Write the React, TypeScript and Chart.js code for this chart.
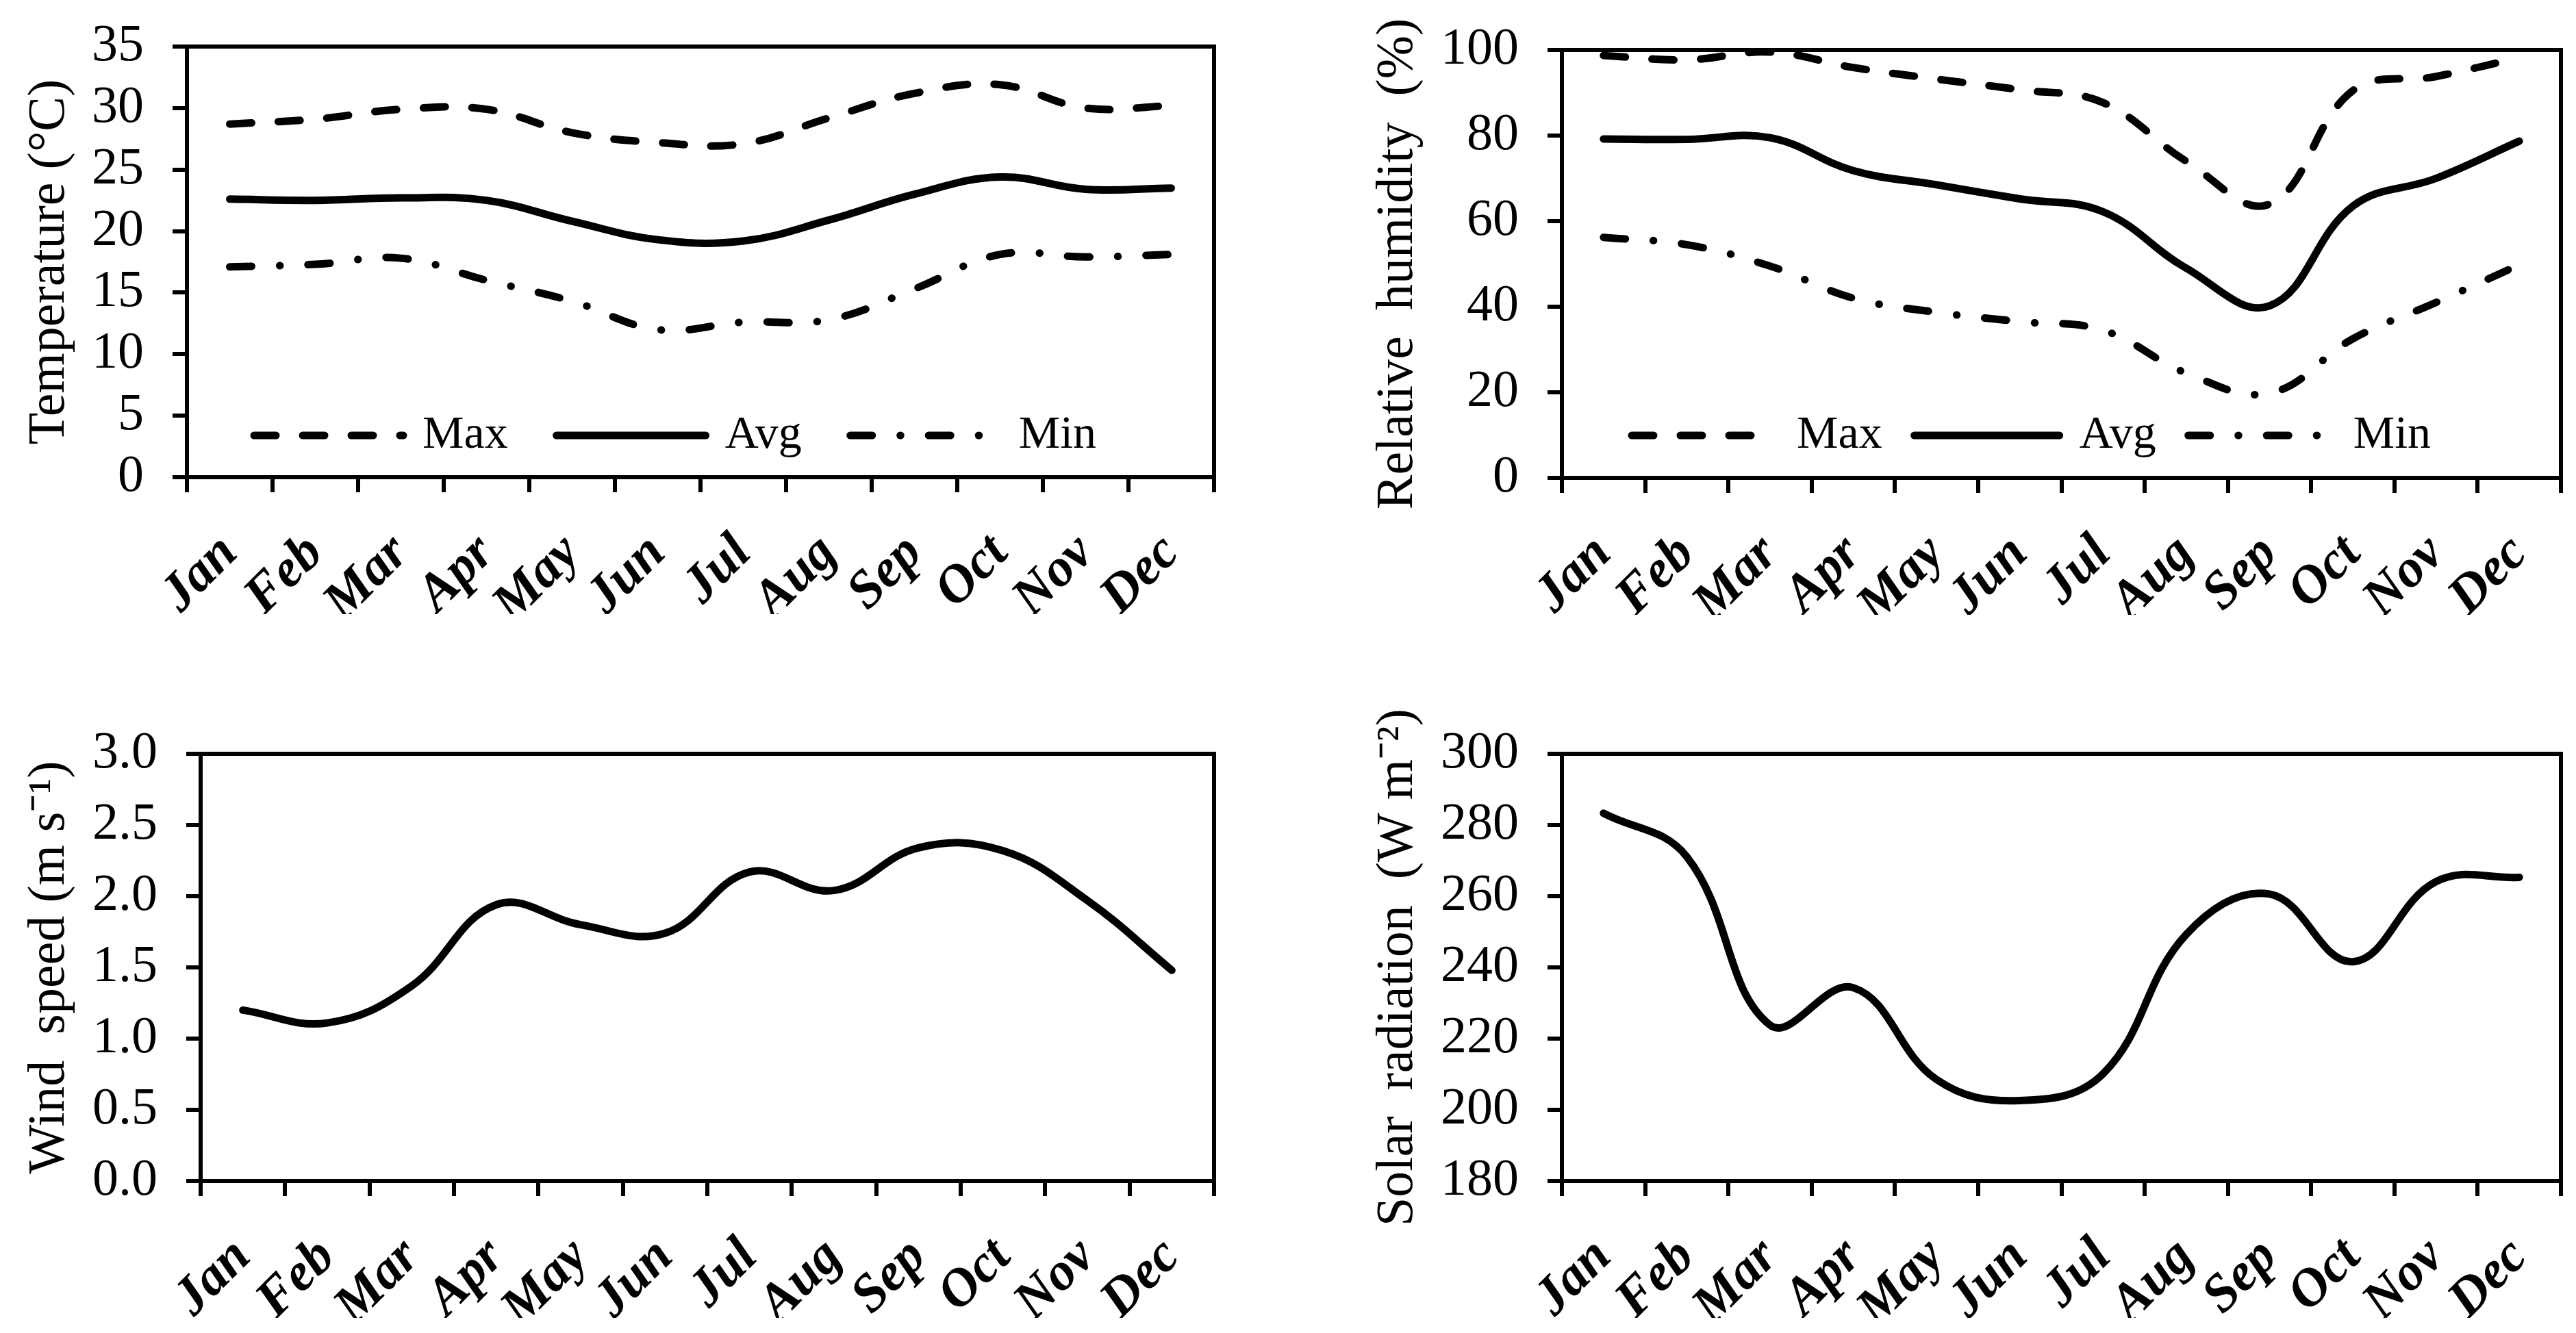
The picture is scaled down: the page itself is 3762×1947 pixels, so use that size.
import React, { useEffect, useRef } from 'react';
import { Chart, registerables } from 'chart.js';

Chart.register(...registerables);

const FAMILY = '"Liberation Serif", "Times New Roman", serif';

// ---------- data ----------
const months = ['Jan', 'Feb', 'Mar', 'Apr', 'May', 'Jun', 'Jul', 'Aug', 'Sep', 'Oct', 'Nov', 'Dec'];

const tempMax = [28.7, 29.1, 29.9, 29.9, 28.0, 27.2, 27.1, 29.2, 31.2, 31.9, 30.0, 30.2];
const tempAvg = [22.6, 22.5, 22.7, 22.5, 20.8, 19.3, 19.2, 20.9, 23.0, 24.4, 23.4, 23.5];
const tempMin = [17.1, 17.3, 17.8, 16.0, 14.3, 12.0, 12.6, 12.8, 15.3, 18.1, 17.9, 18.1];

const rhMax = [98.7, 97.7, 99.5, 95.9, 93.2, 90.7, 87.7, 74.0, 64.0, 90.5, 93.8, 98.2];
const rhAvg = [79.2, 79.1, 79.5, 71.8, 68.5, 65.2, 62.2, 49.0, 40.2, 63.5, 70.0, 78.7];
const rhMin = [56.2, 54.5, 49.5, 42.0, 38.7, 36.5, 34.5, 24.5, 19.8, 32.5, 41.0, 49.8];

const windSpeed = [1.20, 1.11, 1.37, 1.94, 1.80, 1.74, 2.17, 2.04, 2.34, 2.32, 1.97, 1.48];

const solarRadiation = [283.3, 271.1, 223.8, 234.3, 208.5, 202.6, 210.1, 249.3, 260.6, 241.6, 264.1, 265.3];

const seriesLabels = ['Max', 'Avg', 'Min'];

const tempTicks = { min: 0, max: 35, step: 5 };
const rhTicks = { min: 0, max: 100, step: 20 };
const windTicks = { min: 0, max: 3, step: 0.5 };
const solarTicks = { min: 180, max: 300, step: 20 };

const titles = {
  temp: 'Temperature (°C)',
  rh: 'Relative  humidity  (%)',
  wind: 'Wind  speed (m s\u207B\u00B9)',
  solar: 'Solar  radiation  (W m\u207B\u00B2)',
};

// ---------- styles ----------
const LINE_W = 11;
const DASH_MAX = [32, 39];
const DASH_MIN = [32, 41, 0.5, 41];
const X_AXIS_H = 200;

const framePlugin = {
  id: 'frame',
  afterDraw(chart: any) {
    const { ctx, chartArea: a } = chart;
    ctx.save();
    ctx.strokeStyle = '#000';
    ctx.lineWidth = 6;
    ctx.lineJoin = 'miter';
    ctx.beginPath();
    ctx.moveTo(a.left, a.top);
    ctx.lineTo(a.right, a.top);
    ctx.lineTo(a.right, a.bottom);
    ctx.stroke();
    ctx.restore();
  },
};

const insideLegendPlugin = {
  id: 'insideLegend',
  afterDraw(chart: any, _args: any, opts: any) {
    if (!opts || !opts.show) return;
    const { ctx, chartArea: a } = chart;
    let x = a.left + opts.x0;
    const y = a.top + opts.dy;
    ctx.save();
    ctx.font = `68px ${FAMILY}`;
    ctx.textBaseline = 'middle';
    ctx.textAlign = 'left';
    ctx.fillStyle = '#000';
    chart.data.datasets.forEach((ds: any) => {
      ctx.save();
      ctx.setLineDash(ds.borderDash || []);
      ctx.lineCap = 'round';
      ctx.lineWidth = ds.borderWidth;
      ctx.strokeStyle = ds.borderColor;
      ctx.beginPath();
      ctx.moveTo(x + 5, y);
      ctx.lineTo(x + opts.symbol - 5, y);
      ctx.stroke();
      ctx.restore();
      x += opts.symbol + opts.textGap;
      ctx.fillText(ds.label, x, y);
      x += ctx.measureText(ds.label).width + opts.itemGap;
    });
    ctx.restore();
  },
};

type Panel = {
  key: string;
  left: number;
  top: number;
  w: number;
  h: number;
  area: { left: number; top: number; right: number; bottom: number };
  ticks: { min: number; max: number; step: number };
  decimals: number;
  title: string;
  titlePad: number;
  datasets: any[];
  legend: any;
};

const line = (label: string, data: number[], dash: number[]) => ({
  label,
  data,
  borderColor: '#000',
  backgroundColor: '#000',
  borderWidth: LINE_W,
  borderDash: dash,
  borderCapStyle: 'round',
  borderJoinStyle: 'round',
  pointRadius: 0,
  pointHoverRadius: 0,
  tension: 0.4,
  fill: false,
});

const panels: Panel[] = [
  {
    key: 'temp', left: 0, top: 0, w: 1880, h: 975,
    area: { left: 273, top: 68, right: 1773, bottom: 697 },
    ticks: tempTicks, decimals: 0, title: titles.temp, titlePad: 27,
    datasets: [line(seriesLabels[0], tempMax, DASH_MAX), line(seriesLabels[1], tempAvg, []), line(seriesLabels[2], tempMin, DASH_MIN)],
    legend: { show: true, x0: 93, dy: 568, symbol: 228, textGap: 23, itemGap: 66 },
  },
  {
    key: 'rh', left: 1880, top: 0, w: 1882, h: 975,
    area: { left: 401, top: 73, right: 1860, bottom: 698 },
    ticks: rhTicks, decimals: 0, title: titles.rh, titlePad: 116,
    datasets: [line(seriesLabels[0], rhMax, DASH_MAX), line(seriesLabels[1], rhAvg, []), line(seriesLabels[2], rhMin, DASH_MIN)],
    legend: { show: true, x0: 97, dy: 563, symbol: 222, textGap: 24, itemGap: 42 },
  },
  {
    key: 'wind', left: 0, top: 975, w: 1880, h: 972,
    area: { left: 293, top: 126, right: 1773, bottom: 750 },
    ticks: windTicks, decimals: 1, title: titles.wind, titlePad: 27,
    datasets: [line('Wind speed', windSpeed, [])],
    legend: { show: false },
  },
  {
    key: 'solar', left: 1880, top: 975, w: 1882, h: 972,
    area: { left: 401, top: 126, right: 1860, bottom: 750 },
    ticks: solarTicks, decimals: 0, title: titles.solar, titlePad: 116,
    datasets: [line('Solar radiation', solarRadiation, [])],
    legend: { show: false },
  },
];

function buildConfig(p: Panel): any {
  return {
    type: 'line',
    data: { labels: months, datasets: p.datasets },
    plugins: [framePlugin, insideLegendPlugin],
    options: {
      animation: false,
      responsive: false,
      devicePixelRatio: 1,
      events: [],
      layout: {
        padding: {
          left: 0,
          top: p.area.top,
          right: p.w - p.area.right,
          bottom: p.h - p.area.bottom - X_AXIS_H,
        },
      },
      plugins: {
        legend: { display: false },
        tooltip: { enabled: false },
        title: { display: false },
        insideLegend: p.legend,
      },
      scales: {
        x: {
          type: 'category',
          offset: true,
          grid: {
            display: true,
            offset: true,
            drawOnChartArea: false,
            drawTicks: true,
            tickLength: 22,
            tickWidth: 6,
            tickColor: '#000',
            color: '#000',
            lineWidth: 6,
          },
          border: { display: true, color: '#000', width: 6 },
          ticks: {
            autoSkip: false,
            minRotation: 45,
            maxRotation: 45,
            padding: 44,
            color: '#000',
            font: { family: FAMILY, size: 78, style: 'italic', weight: 'bold' },
          },
          afterFit: (s: any) => {
            s.height = X_AXIS_H;
            s.paddingLeft = 0;
            s.paddingRight = 0;
          },
        },
        y: {
          type: 'linear',
          min: p.ticks.min,
          max: p.ticks.max,
          grid: {
            display: true,
            drawOnChartArea: false,
            drawTicks: true,
            tickLength: 21,
            tickWidth: 6,
            tickColor: '#000',
            color: '#000',
            lineWidth: 6,
          },
          border: { display: true, color: '#000', width: 6 },
          ticks: {
            stepSize: p.ticks.step,
            autoSkip: false,
            padding: 42,
            color: '#000',
            font: { family: FAMILY, size: 76, lineHeight: 1.0 },
            callback: (v: any) => Number(v).toFixed(p.decimals),
          },
          title: {
            display: true,
            text: p.title,
            color: '#000',
            font: { family: FAMILY, size: 76, weight: 'normal' },
            padding: { top: p.titlePad, bottom: 0 },
          },
          afterFit: (s: any) => {
            s.width = p.area.left;
            s.paddingTop = 0;
            s.paddingBottom = 0;
          },
        },
      },
    },
  };
}

function PanelChart({ p }: { p: Panel }) {
  const ref = useRef<HTMLCanvasElement | null>(null);
  useEffect(() => {
    if (!ref.current) return;
    const chart = new Chart(ref.current, buildConfig(p));
    return () => chart.destroy();
  }, [p]);
  return (
    <canvas
      ref={ref}
      width={p.w}
      height={p.h}
      style={{ position: 'absolute', left: p.left, top: p.top, width: p.w, height: p.h }}
    />
  );
}

export default function App() {
  return (
    <div style={{ position: 'absolute', left: 0, top: 0, width: 3762, height: 1947, background: '#fff' }}>
      {panels.map((p) => (
        <PanelChart key={p.key} p={p} />
      ))}
    </div>
  );
}
